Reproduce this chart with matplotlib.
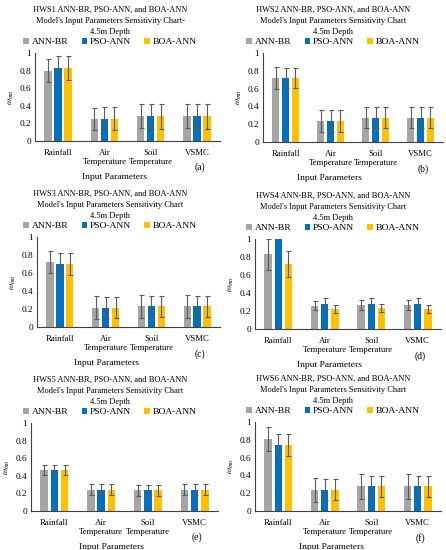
import matplotlib
matplotlib.use("Agg")
import matplotlib.pyplot as plt
import numpy as np

plt.rcParams['font.family'] = ['Liberation Serif', 'DejaVu Serif']
plt.rcParams['mathtext.fontset'] = 'stix'

categories = ["Rainfall", "Air\nTemperature", "Soil\nTemperature", "VSMC"]
models = ["ANN-BR", "PSO-ANN", "BOA-ANN"]
colors = ["#A5A5A5", "#0070C0", "#FFC000"]

titles = [
    ["HWS1 ANN-BR, PSO-ANN, and BOA-ANN", "Model's Input Parameters Sensitivity Chart-", "4.5m Depth"],
    ["HWS2 ANN-BR, PSO-ANN, and BOA-ANN", "Model's Input Parameters Sensitivity Chart", "4.5m Depth"],
    ["HWS3 ANN-BR, PSO-ANN, and BOA-ANN", "Model's Input Parameters Sensitivity Chart", "4.5m Depth"],
    ["HWS4 ANN-BR, PSO-ANN, and BOA-ANN", "Model's Input Parameters Sensitivity Chart", "4.5m Depth"],
    ["HWS5 ANN-BR, PSO-ANN, and BOA-ANN", "Model's Input Parameters Sensitivity Chart", "4.5m Depth"],
    ["HWS6 ANN-BR, PSO-ANN, and BOA-ANN", "Model's Input Parameters Sensitivity Chart", "4.5m Depth"],
]
panel_letters = ["(a)", "(b)", "(c)", "(d)", "(e)", "(f)"]

# values[panel][model] over categories
hws1_vals = [[0.80, 0.25, 0.28, 0.28], [0.83, 0.255, 0.28, 0.28], [0.83, 0.255, 0.28, 0.28]]
hws1_err = [[0.135, 0.13, 0.135, 0.135], [0.14, 0.135, 0.14, 0.14], [0.14, 0.135, 0.14, 0.14]]
hws2_vals = [[0.72, 0.235, 0.275, 0.275], [0.72, 0.235, 0.275, 0.275], [0.72, 0.235, 0.275, 0.275]]
hws2_err = [[0.12, 0.12, 0.12, 0.12], [0.115, 0.12, 0.115, 0.115], [0.115, 0.12, 0.115, 0.115]]
hws3_vals = [[0.725, 0.216, 0.23, 0.23], [0.70, 0.216, 0.23, 0.23], [0.70, 0.216, 0.23, 0.23]]
hws3_err = [[0.12, 0.125, 0.125, 0.125], [0.12, 0.12, 0.12, 0.12], [0.12, 0.12, 0.12, 0.12]]
hws4_vals = [[0.83, 0.256, 0.264, 0.264], [1.0, 0.28, 0.28, 0.28], [0.72, 0.22, 0.234, 0.227]]
hws4_err = [[0.17, 0.05, 0.055, 0.055], [0.0, 0.06, 0.06, 0.06], [0.145, 0.045, 0.045, 0.045]]
hws5_vals = [[0.464, 0.243, 0.236, 0.243], [0.464, 0.243, 0.236, 0.243], [0.464, 0.243, 0.236, 0.243]]
hws5_err = [[0.06, 0.063, 0.06, 0.06], [0.06, 0.063, 0.06, 0.06], [0.06, 0.063, 0.06, 0.06]]
hws6_vals = [[0.806, 0.24, 0.276, 0.276], [0.74, 0.24, 0.276, 0.276], [0.74, 0.24, 0.276, 0.276]]
hws6_err = [[0.135, 0.135, 0.138, 0.138], [0.12, 0.12, 0.12, 0.12], [0.12, 0.12, 0.12, 0.12]]

all_vals = [hws1_vals, hws2_vals, hws3_vals, hws4_vals, hws5_vals, hws6_vals]
all_errs = [hws1_err, hws2_err, hws3_err, hws4_err, hws5_err, hws6_err]

W, H = 446, 550
fig = plt.figure(figsize=(W / 100, H / 100), dpi=100)

# axes rects in pixels: left, top, right, bottom
rects = [
    (35, 53, 220, 141),
    (263, 53, 443, 142),
    (37, 237, 220, 327),
    (255, 239, 441, 329),
    (31, 423, 218, 511),
    (255, 422, 441, 511),
]
panel_cx = [110, 333, 110, 333, 110, 333]
xlabel_x = [0.43, 0.37, 0.38, 0.40, 0.43, 0.41]

fs = 6.3
for i in range(6):
    l, t, r, b = rects[i]
    ax = fig.add_axes([l / W, 1 - b / H, (r - l) / W, (b - t) / H])
    x = np.arange(len(categories))
    bw = 0.16
    off = 0.217
    handles = []
    for m in range(3):
        hb = ax.bar(x + (m - 1) * off, all_vals[i][m], bw, color=colors[m], label=models[m],
                    yerr=all_errs[i][m], error_kw=dict(ecolor="#5A5A5A", elinewidth=0.8,
                                                       capsize=1.8, capthick=0.8))
        handles.append(hb)
    ax.set_ylim(0, 1)
    ax.set_xlim(-0.5, 3.5)
    ax.set_yticks([0, 0.2, 0.4, 0.6, 0.8, 1.0])
    ax.set_yticklabels(["0", "0.2", "0.4", "0.6", "0.8", "1"], fontsize=fs + 0.4)
    ax.set_xticks(x)
    ax.set_xticklabels(categories, fontsize=fs, linespacing=1.05)
    ax.tick_params(axis='both', length=0, pad=3)
    ax.tick_params(axis='x', pad=6)
    for s in ['top', 'right']:
        ax.spines[s].set_visible(False)
    ax.spines['left'].set_color("#404040")
    ax.spines['bottom'].set_color("#404040")
    ax.spines['left'].set_linewidth(0.8)
    ax.spines['bottom'].set_linewidth(0.8)
    ax.set_ylabel(r"$\omega_{mn}$", fontsize=fs, labelpad=2)
    ax.set_xlabel("Input Parameters", fontsize=fs + 0.5, labelpad=0)
    ax.xaxis.set_label_coords(xlabel_x[i], -0.36)
    ax.text(0.89, -0.30, panel_letters[i], transform=ax.transAxes, fontsize=fs + 0.7,
            ha='center', va='center')
    # title
    cx = panel_cx[i] / W
    for k, line in enumerate(titles[i]):
        yy = t - 43 + k * 11
        fig.text(cx, 1 - yy / H, line, ha='center', va='center', fontsize=6.0)
    fig.legend(handles=handles, labels=models, loc='center',
               bbox_to_anchor=(cx, 1 - (t - 11) / H), ncol=3, frameon=False,
               fontsize=fs + 0.5, handlelength=0.6, handleheight=0.6, handletextpad=0.3,
               columnspacing=1.4, borderpad=0, borderaxespad=0)

fig.savefig("out.png", dpi=100)
